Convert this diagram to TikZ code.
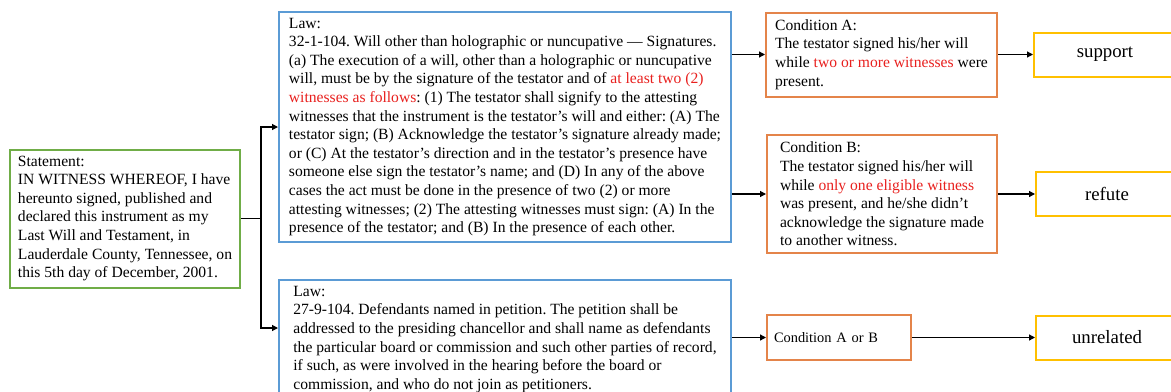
\documentclass[tikz,border=0pt]{standalone}
\usepackage{fontspec}
\setmainfont{Liberation Serif}
\usetikzlibrary{arrows.meta, positioning, calc}
\usepackage{xcolor}
\definecolor{stmtcol}{HTML}{70AD47}
\definecolor{lawcol}{HTML}{5B9BD5}
\definecolor{condcol}{HTML}{E4844A}
\definecolor{verdictcol}{HTML}{FFC000}
\definecolor{keycol}{HTML}{E8201E}
\newcommand{\keytext}[1]{\textcolor{keycol}{#1}}
\frenchspacing

\begin{document}
\begin{tikzpicture}[
    x=0.5pt, y=-0.5pt,
    >={Triangle[length=3pt, width=3pt]},
    box/.style={
        draw, line width=1pt, align=left, inner xsep=3.5pt, inner ysep=2pt,
        font=\fontsize{7.8}{9.3}\selectfont
    },
    verdict/.style={
        draw=verdictcol, line width=1pt, minimum width=71pt, minimum height=22pt,
        font=\fontsize{9.4}{11}\selectfont
    },
    link/.style={->, line width=0.6pt},
]
\useasboundingbox (0,0) rectangle (1171,391);

% ── Statement ──
\node[box, draw=stmtcol, minimum width=115pt, minimum height=69pt] (statement) at (125,218.5)
    {Statement:\\
     IN WITNESS WHEREOF, I have\\
     hereunto signed, published and\\
     declared this instrument as my\\
     Last Will and Testament, in\\
     Lauderdale County, Tennessee, on\\
     this 5th day of December, 2001.};

% ── Laws ──
\node[box, draw=lawcol, minimum width=226pt, minimum height=115pt] (law1) at (505,127)
    {Law:\\
     32-1-104. Will other than holographic or nuncupative — Signatures.\\
     (a) The execution of a will, other than a holographic or nuncupative\\
     will, must be by the signature of the testator and of \keytext{at least two (2)}\\
     \keytext{witnesses as follows}: (1) The testator shall signify to the attesting\\
     witnesses that the instrument is the testator's will and either: (A) The\\
     testator sign; (B) Acknowledge the testator's signature already made;\\
     or (C) At the testator's direction and in the testator's presence have\\
     someone else sign the testator's name; and (D) In any of the above\\
     cases the act must be done in the presence of two (2) or more\\
     attesting witnesses; (2) The attesting witnesses must sign: (A) In the\\
     presence of the testator; and (B) In the presence of each other.};

\node[box, draw=lawcol, minimum width=226pt, inner ysep=3pt, anchor=north] (law2) at (505,279)
    {Law:\\
     27-9-104. Defendants named in petition. The petition shall be\\
     addressed to the presiding chancellor and shall name as defendants\\
     the particular board or commission and such other parties of record,\\
     if such, as were involved in the hearing before the board or\\
     commission, and who do not join as petitioners.};

% ── Conditions ──
\node[box, draw=condcol, minimum width=115.5pt, minimum height=42pt] (condA) at (881.5,54.5)
    {Condition A:\\
     The testator signed his/her will\\
     while \keytext{two or more witnesses} were\\
     present.};

\node[box, draw=condcol, minimum width=115pt, minimum height=59pt] (condB) at (882,194)
    {Condition B:\\
     The testator signed his/her will\\
     while \keytext{only one eligible witness}\\
     was present, and he/she didn't\\
     acknowledge the signature made\\
     to another witness.};

\node[box, draw=condcol, text width=65pt, minimum height=22.5pt,
      font=\fontsize{7.2}{9}\selectfont] (condAB) at (839,337.5)
    {Condition A or B};

% ── Verdicts ──
\node[verdict, right=17.5pt of condA] (support)   {support};
\node[verdict, right=18.5pt of condB] (refute)    {refute};
\node[verdict, right=61.5pt of condAB] (unrelated) {unrelated};

% ── Branch from statement ──
\coordinate (split) at ($(statement.east)+(20,0)$);
\coordinate (law2in) at ($(law2.north west)+(0,49)$);
\draw[line width=0.6pt] (statement.east) -- (split);
\draw[link] (split) |- (law1.west);
\draw[link] (split) |- (law2in);

% ── Law to conditions ──
\draw[link] (condA.west -| law1.east) -- (condA.west);
\draw[link] (condB.west -| law1.east) -- (condB.west);
\draw[link] (condAB.west -| law2.east) -- (condAB.west);

% ── Conditions to verdicts ──
\draw[link] (condA) -- (support);
\draw[link] (condB) -- (refute);
\draw[link] (condAB) -- (unrelated);

\end{tikzpicture}
\end{document}
